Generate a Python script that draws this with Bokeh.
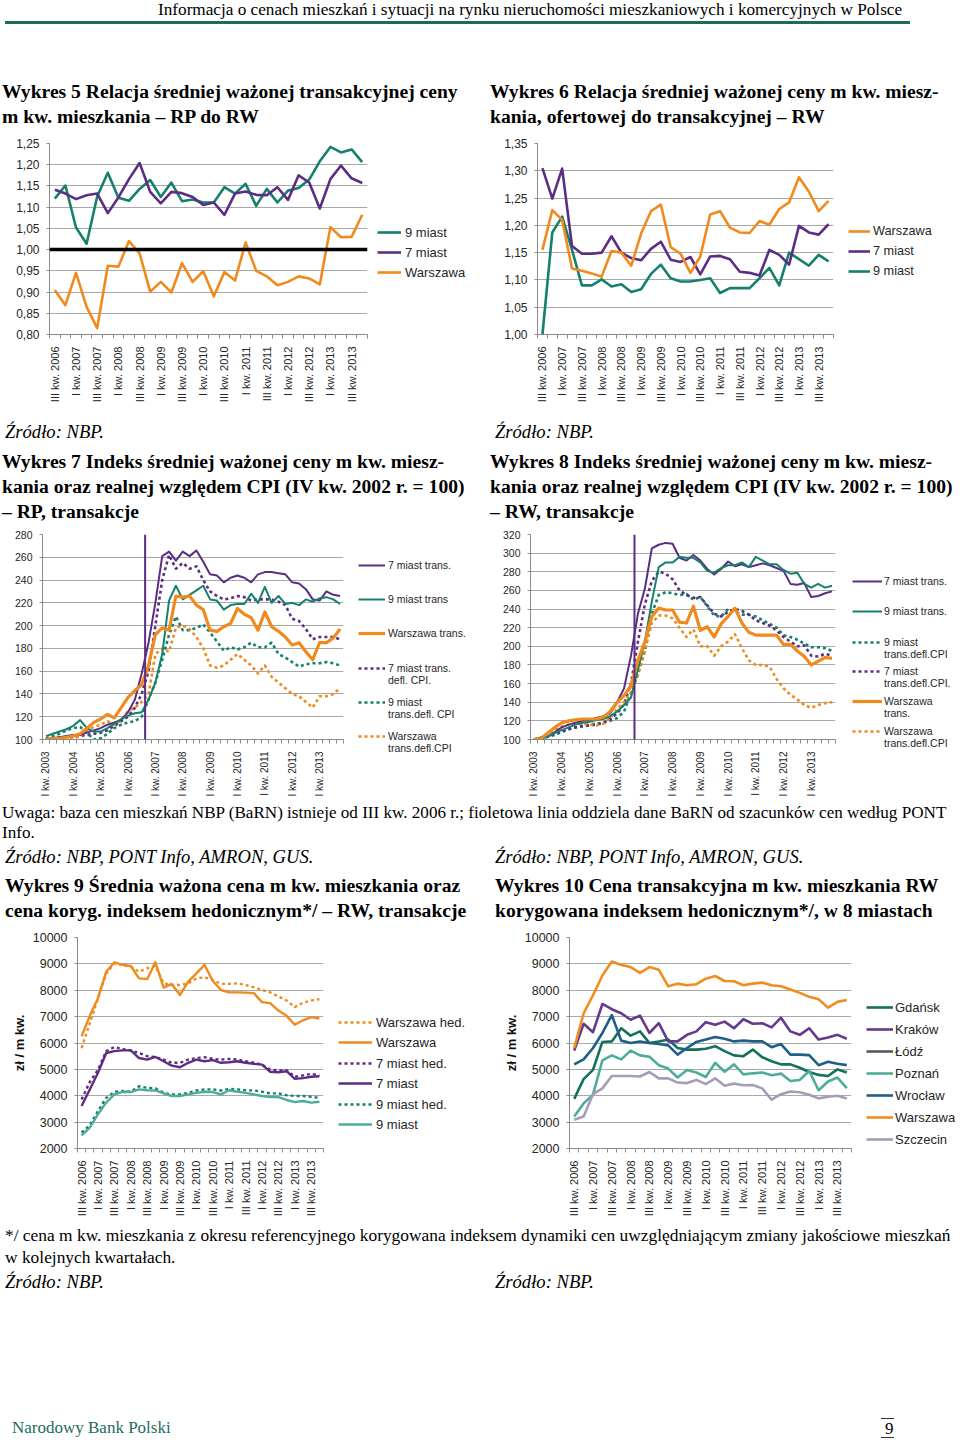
import math
from bokeh.plotting import figure
from bokeh.models import Range1d, FixedTicker, Span, Legend, LegendItem, Div
from bokeh.layouts import column, row
from bokeh.embed import file_html
from bokeh.resources import INLINE

# ---------------- DATA ----------------
# Charts 5, 6, 9, 10: quarters III kw. 2006 .. IV kw. 2013 (30 quarters)
q30_labels = ["III kw. 2006", "I kw. 2007", "III kw. 2007", "I kw. 2008", "III kw. 2008",
              "I kw. 2009", "III kw. 2009", "I kw. 2010", "III kw. 2010", "I kw. 2011",
              "III kw. 2011", "I kw. 2012", "III kw. 2012", "I kw. 2013", "III kw. 2013"]
# Charts 7, 8: quarters I kw. 2003 .. IV kw. 2013 (44 quarters)
q44_labels = ["I kw. 2003", "I kw. 2004", "I kw. 2005", "I kw. 2006", "I kw. 2007", "I kw. 2008",
              "I kw. 2009", "I kw. 2010", "I kw. 2011", "I kw. 2012", "I kw. 2013"]

# Wykres 5 - RP / RW
w5_9miast = [1.120, 1.151, 1.052, 1.014, 1.125, 1.181, 1.122, 1.115, 1.143, 1.164, 1.124, 1.158, 1.114, 1.118, 1.111,
             1.111, 1.147, 1.132, 1.155, 1.103, 1.143, 1.111, 1.139, 1.145, 1.165, 1.208, 1.242, 1.229, 1.236, 1.206]
w5_7miast = [1.141, 1.132, 1.119, 1.128, 1.132, 1.086, 1.123, 1.166, 1.204, 1.136, 1.109, 1.136, 1.133, 1.124, 1.105,
             1.111, 1.082, 1.132, 1.137, 1.129, 1.128, 1.147, 1.117, 1.175, 1.158, 1.097, 1.166, 1.198, 1.168, 1.157]
w5_warszawa = [0.905, 0.869, 0.945, 0.865, 0.815, 0.962, 0.960, 1.020, 0.991, 0.901, 0.924, 0.899, 0.968, 0.924, 0.949,
               0.890, 0.947, 0.927, 1.017, 0.950, 0.937, 0.916, 0.924, 0.937, 0.932, 0.918, 1.053, 1.029, 1.030, 1.082]
w5_ref_level = 1.0
w5_yticks = [0.80, 0.85, 0.90, 0.95, 1.00, 1.05, 1.10, 1.15, 1.20, 1.25]
w5_ylabels = ["0,80", "0,85", "0,90", "0,95", "1,00", "1,05", "1,10", "1,15", "1,20", "1,25"]

# Wykres 6 - oferta / transakcja RW
w6_warszawa = [1.155, 1.228, 1.210, 1.121, 1.117, 1.112, 1.106, 1.153, 1.150, 1.126, 1.185, 1.226, 1.238, 1.160, 1.148,
               1.113, 1.143, 1.220, 1.226, 1.196, 1.187, 1.186, 1.208, 1.201, 1.230, 1.242, 1.288, 1.262, 1.226, 1.245]
w6_7miast = [1.305, 1.249, 1.304, 1.162, 1.148, 1.148, 1.150, 1.180, 1.150, 1.140, 1.136, 1.157, 1.170, 1.137, 1.133,
             1.142, 1.110, 1.143, 1.144, 1.138, 1.115, 1.113, 1.108, 1.155, 1.146, 1.128, 1.199, 1.187, 1.183, 1.202]
w6_9miast = [1.000, 1.187, 1.216, 1.155, 1.090, 1.090, 1.101, 1.088, 1.092, 1.078, 1.083, 1.111, 1.128, 1.103, 1.097,
             1.097, 1.100, 1.103, 1.076, 1.085, 1.085, 1.085, 1.103, 1.122, 1.090, 1.150, 1.138, 1.126, 1.146, 1.134]
w6_yticks = [1.00, 1.05, 1.10, 1.15, 1.20, 1.25, 1.30, 1.35]
w6_ylabels = ["1,00", "1,05", "1,10", "1,15", "1,20", "1,25", "1,30", "1,35"]

# Wykres 7 - indeks RP
w7_7m = [100, 101, 102, 103, 104, 104, 106, 108, 110, 113, 115, 117, 124, 135, 158, 185, 220, 261, 265, 257, 265, 261,
         266, 256, 245, 244, 238, 242, 244, 242, 238, 245, 247, 247, 246, 245, 238, 237, 232, 223, 222, 230, 227, 226]
w7_9m = [103, 105, 107, 109, 112, 117, 110, 107, 107, 110, 114, 118, 121, 123, 124, 135, 150, 175, 222, 235, 223, 227,
         231, 235, 223, 222, 214, 218, 219, 219, 228, 220, 234, 220, 226, 219, 220, 218, 223, 221, 224, 225, 223, 219]
w7_waw = [100, 101, 101, 102, 103, 105, 110, 115, 118, 122, 119, 128, 137, 143, 148, 165, 192, 198, 196, 226, 225, 226,
          218, 214, 196, 195, 199, 202, 215, 210, 207, 196, 212, 199, 195, 190, 183, 185, 177, 170, 185, 185, 189, 197]
w7_7m_cpi = [100, 101, 102, 102, 103, 103, 104, 105, 106, 108, 112, 116, 120, 128, 140, 160, 200, 240, 262, 250, 255, 250,
             252, 240, 230, 226, 223, 224, 226, 225, 222, 223, 223, 223, 221, 218, 206, 204, 197, 188, 190, 190, 190, 188]
w7_9m_cpi = [101, 103, 105, 108, 110, 111, 106, 100, 101, 105, 110, 113, 115, 116, 120, 135, 150, 170, 192, 208, 196, 196,
             198, 201, 194, 186, 178, 181, 179, 181, 185, 181, 181, 185, 175, 172, 168, 164, 166, 167, 167, 168, 167, 165]
w7_waw_cpi = [100, 100, 100, 101, 101, 103, 108, 111, 113, 116, 113, 117, 125, 128, 133, 140, 175, 180, 177, 198, 200, 197,
              190, 180, 165, 163, 165, 170, 175, 170, 165, 158, 165, 155, 150, 145, 140, 138, 133, 128, 138, 138, 140, 145]
w7_yticks = [100, 120, 140, 160, 180, 200, 220, 240, 260, 280]

# Wykres 8 - indeks RW
w8_7m = [100, 102, 103, 108, 113, 116, 118, 120, 121, 123, 125, 128, 140, 155, 190, 235, 262, 305, 309, 311, 310, 295,
         292, 298, 292, 283, 277, 283, 291, 286, 288, 285, 287, 289, 287, 284, 281, 267, 266, 268, 253, 254, 257, 259]
w8_9m = [100, 101, 103, 107, 110, 113, 116, 118, 119, 121, 122, 125, 130, 137, 145, 175, 205, 248, 285, 290, 290, 296,
         295, 295, 290, 281, 279, 284, 287, 287, 290, 285, 296, 292, 288, 288, 282, 278, 279, 267, 263, 267, 263, 265]
w8_9m_cpi = [100, 101, 103, 105, 108, 111, 113, 115, 116, 117, 118, 120, 123, 130, 150, 170, 195, 235, 255, 258, 257, 255,
             256, 250, 253, 243, 233, 232, 240, 237, 234, 234, 232, 228, 224, 220, 212, 210, 207, 203, 199, 199, 198, 195]
w8_7m_cpi = [100, 102, 103, 106, 109, 111, 113, 114, 115, 116, 118, 122, 128, 138, 160, 205, 245, 270, 280, 278, 272, 260,
             255, 252, 253, 244, 235, 232, 237, 240, 238, 234, 228, 225, 222, 217, 210, 205, 200, 201, 190, 189, 192, 190]
w8_waw = [100, 101, 107, 113, 118, 120, 121, 122, 122, 122, 124, 130, 140, 147, 158, 185, 205, 232, 241, 239, 239, 226,
          225, 243, 217, 221, 210, 224, 232, 241, 225, 215, 212, 212, 212, 212, 202, 202, 195, 189, 180, 184, 188, 187]
w8_waw_cpi = [100, 101, 105, 110, 114, 116, 117, 117, 116, 115, 117, 123, 133, 140, 150, 170, 195, 225, 233, 233, 230, 220,
              210, 218, 200, 200, 190, 200, 205, 213, 198, 185, 180, 180, 178, 165, 155, 148, 143, 137, 134, 137, 139, 140]
w8_yticks = [100, 120, 140, 160, 180, 200, 220, 240, 260, 280, 300, 320]
barn_start = 14.5  # boundary between PONT Info estimates and BaRN data (category index)

# Wykres 9 - cena i cena hedoniczna RW
w9_waw_hed = [5810, 6750, 7700, 8640, 9020, 8960, 8890, 8700, 8830, 8920, 8260, 8200, 8200, 8260, 8450,
              8490, 8390, 8240, 8240, 8260, 8200, 8110, 8010, 7920, 7760, 7610, 7360, 7530, 7610, 7660]
w9_waw = [6250, 7030, 7700, 8700, 9060, 8960, 8920, 8450, 8420, 9060, 8100, 8240, 7820, 8330, 8640,
          8960, 8350, 8010, 7920, 7920, 7910, 7890, 7550, 7510, 7230, 7030, 6690, 6860, 6980, 6930]
w9_7m_hed = [3860, 4520, 4990, 5690, 5850, 5770, 5720, 5620, 5500, 5470, 5370, 5250, 5250, 5370, 5430,
             5460, 5400, 5370, 5400, 5370, 5310, 5250, 5180, 4990, 4960, 4970, 4720, 4770, 4830, 4770]
w9_7m = [3610, 4240, 4870, 5620, 5690, 5720, 5720, 5430, 5370, 5470, 5310, 5140, 5080, 5250, 5370,
         5310, 5350, 5250, 5270, 5310, 5250, 5210, 5180, 4910, 4890, 4930, 4640, 4670, 4720, 4740]
w9_9m_hed = [2600, 2880, 3420, 3920, 4150, 4180, 4150, 4360, 4300, 4280, 4110, 4050, 4050, 4110, 4200,
             4240, 4240, 4200, 4260, 4240, 4210, 4200, 4150, 4090, 4090, 4020, 3990, 3990, 3960, 3920]
w9_9m = [2500, 2790, 3300, 3740, 4050, 4150, 4140, 4240, 4210, 4200, 4090, 3990, 3990, 4050, 4110,
         4150, 4140, 4050, 4210, 4150, 4110, 4050, 3990, 3950, 3950, 3840, 3760, 3800, 3740, 3770]
price_yticks = [2000, 3000, 4000, 5000, 6000, 7000, 8000, 9000, 10000]

# Wykres 10 - ceny hedoniczne w miastach
w10_gdansk = [3880, 4630, 4980, 6040, 6060, 6560, 6280, 6440, 6000, 6060, 6130, 5810, 5750, 5750, 5780,
              5880, 5690, 5530, 5500, 5750, 5460, 5310, 5190, 5190, 5060, 4900, 4790, 4750, 5000, 4880]
w10_krakow = [5710, 6730, 6410, 7480, 7280, 7130, 6880, 7040, 6380, 6750, 6060, 6060, 6310, 6440, 6790,
              6690, 6810, 6560, 6900, 6730, 6750, 6590, 6960, 6440, 6310, 6560, 6130, 6210, 6310, 6160]
w10_lodz = []
w10_poznan = [3210, 3710, 4040, 5340, 5530, 5380, 5710, 5530, 5480, 5160, 5030, 4690, 4980, 4880, 4710,
              5250, 4910, 5190, 4810, 4850, 4880, 4780, 4840, 4560, 4600, 4940, 4210, 4540, 4690, 4290]
w10_wroclaw = [5190, 5380, 5810, 6380, 7060, 6090, 6000, 6060, 6000, 5960, 5910, 5560, 5810, 6040, 6130,
               6230, 6160, 6060, 6090, 6060, 6060, 5840, 5960, 5560, 5560, 5540, 5160, 5290, 5210, 5160]
w10_warszawa = [5810, 7120, 7810, 8560, 9090, 8960, 8880, 8660, 8880, 8780, 8150, 8250, 8190, 8230, 8440,
                8540, 8350, 8340, 8190, 8250, 8290, 8190, 8150, 8030, 7900, 7750, 7660, 7340, 7560, 7630]
w10_szczecin = [3090, 3210, 4060, 4280, 4750, 4750, 4750, 4730, 4900, 4660, 4660, 4500, 4480, 4600, 4440,
                4660, 4380, 4460, 4400, 4410, 4280, 3850, 4060, 4160, 4130, 4040, 3900, 3960, 4000, 3900]

# ---------------- STYLE ----------------
SANS = "Liberation Sans"
SERIF = "'Liberation Serif', 'Times New Roman', serif"
TEAL = "#15806c"
PURPLE = "#5c2d84"
ORANGE = "#f08a1d"
LTEAL = "#4cad98"
GRID = "#a8a8a8"
AXIS = "#8a8a8a"
TXT = "#262626"
DOT = "3 3"


def base_chart(left, top, fw, fh, height, n, yrange, yticks, ylabels, xlab_pos, xlabels,
               ytick_size, xtick_size, ylabel=None, right=5):
    p = figure(width=left + fw + right, height=height, min_border_left=left, min_border_top=top,
               min_border_right=right, min_border_bottom=height - top - fh,
               x_range=Range1d(-0.5, n - 0.5), y_range=Range1d(*yrange),
               output_backend="svg", toolbar_location=None, tools="", margin=0)
    p.outline_line_color = None
    p.background_fill_color = "white"
    p.border_fill_color = "white"
    p.xgrid.visible = False
    p.ygrid.ticker = FixedTicker(ticks=yticks)
    p.ygrid.grid_line_color = GRID
    p.ygrid.grid_line_width = 1
    ya = p.yaxis[0]
    ya.ticker = FixedTicker(ticks=yticks)
    if ylabels is not None:
        ya.major_label_overrides = {t: l for t, l in zip(yticks, ylabels)}
    ya.axis_line_color = AXIS
    ya.major_tick_line_color = AXIS
    ya.major_tick_out = 3
    ya.major_tick_in = 0
    ya.minor_tick_line_color = None
    ya.major_label_standoff = 7
    ya.major_label_text_font = SANS
    ya.major_label_text_font_size = f"{ytick_size}px"
    ya.major_label_text_color = TXT
    if ylabel:
        ya.axis_label = ylabel
        ya.axis_label_text_font = SANS
        ya.axis_label_text_font_style = "bold"
        ya.axis_label_text_font_size = "13px"
        ya.axis_label_text_color = "#111"
        ya.axis_label_standoff = 3
    xa = p.xaxis[0]
    xa.ticker = FixedTicker(ticks=xlab_pos, minor_ticks=[i - 0.5 for i in range(n + 1)])
    xa.major_label_overrides = {t: l for t, l in zip(xlab_pos, xlabels)}
    xa.major_label_orientation = math.pi / 2
    xa.axis_line_color = AXIS
    xa.major_tick_line_color = None
    xa.minor_tick_line_color = AXIS
    xa.minor_tick_out = 4
    xa.minor_tick_in = 0
    xa.major_label_standoff = 6
    xa.major_label_text_font = SANS
    xa.major_label_text_font_size = f"{xtick_size}px"
    xa.major_label_text_color = TXT
    return p


def series(p, ys, color, width, dash="solid"):
    xs = list(range(len(ys)))
    return p.line(xs, ys, line_color=color, line_width=width, line_dash=dash,
                  line_join="round", line_cap="butt")


def legend_column(width, top, height, entries, glyph_x, glyph_w, standoff, size, row_h):
    """A stack of small legend-only figures, one per entry.
    entries: (label_lines, color, line_width, dash, first_line_center_y_on_page)"""
    starts = [top] + [e[4] - row_h / 2 - 3 for e in entries[1:]]
    ends = starts[1:] + [top + height]
    starts_i = [round(s) for s in starts]
    ends_i = [round(e) for e in ends]
    figs = []
    for (lines, color, lw, dash, cy), s, e in zip(entries, starts_i, ends_i):
        h = e - s
        off = int(round(cy - row_h / 2 - s))
        lp = figure(width=width, height=h, x_range=Range1d(0, 1), y_range=Range1d(0, 1),
                    x_axis_type=None, y_axis_type=None,
                    min_border_left=glyph_x, min_border_top=off, min_border_right=0, min_border_bottom=0,
                    output_backend="svg", toolbar_location=None, tools="", margin=0)
        lp.outline_line_color = None
        lp.grid.visible = False
        # legend-key proxies (a single point draws no line segment)
        proxy = lp.line(x=[0], y=[0], line_color=color, line_width=lw, line_dash=dash)
        hidden = lp.line(x=[0], y=[0], line_color="white", line_alpha=0)
        items = [LegendItem(label=lines[0], renderers=[proxy])]
        items += [LegendItem(label=t, renderers=[hidden]) for t in lines[1:]]
        leg = Legend(items=items, location="top_left", orientation="vertical",
                     glyph_width=glyph_w, glyph_height=row_h, label_height=row_h,
                     label_standoff=standoff, spacing=0, padding=0, margin=0,
                     border_line_alpha=0, background_fill_alpha=0,
                     label_text_font=SANS, label_text_font_size=f"{size}px",
                     label_text_color=TXT)
        lp.add_layout(leg)
        figs.append(lp)
    return column(*figs, margin=0)


x30 = list(range(0, 30, 2))
x44 = list(range(0, 44, 4))

# ---- Wykres 5 ----
p5 = base_chart(49, 14, 318, 198, 277, 30, (0.80, 1.25), w5_yticks, w5_ylabels, x30, q30_labels, 12, 11)
p5.add_layout(Span(location=w5_ref_level, dimension="width", line_color="black", line_width=3.5))
series(p5, w5_9miast, TEAL, 2.6)
series(p5, w5_7miast, PURPLE, 2.6)
series(p5, w5_warszawa, ORANGE, 2.6)
l5 = legend_column(488 - 372, 128, 277, [(["9 miast"], TEAL, 2.6, "solid", 232),
                                         (["7 miast"], PURPLE, 2.6, "solid", 252),
                                         (["Warszawa"], ORANGE, 2.6, "solid", 272)], 5, 24, 4, 13, 16)

# ---- Wykres 6 ----
p6 = base_chart(49, 15, 296, 194, 277, 30, (1.00, 1.35), w6_yticks, w6_ylabels, x30, q30_labels, 12, 11)
series(p6, w6_9miast, TEAL, 2.6)
series(p6, w6_7miast, PURPLE, 2.6)
series(p6, w6_warszawa, ORANGE, 2.6)
l6 = legend_column(960 - 838, 128, 277, [(["Warszawa"], ORANGE, 2.6, "solid", 231),
                                         (["7 miast"], PURPLE, 2.6, "solid", 251),
                                         (["9 miast"], TEAL, 2.6, "solid", 271)], 10, 22, 3, 12.7, 16)

# ---- Wykres 7 ----
p7 = base_chart(42, 9, 301, 208, 278, 44, (100, 280), w7_yticks, None, x44, q44_labels, 10.5, 10)
p7.add_layout(Span(location=barn_start, dimension="height", line_color=PURPLE, line_width=2))
series(p7, w7_7m_cpi, PURPLE, 2.6, DOT)
series(p7, w7_9m_cpi, TEAL, 2.6, DOT)
series(p7, w7_waw_cpi, ORANGE, 2.6, DOT)
series(p7, w7_7m, PURPLE, 2.0)
series(p7, w7_9m, TEAL, 2.0)
series(p7, w7_waw, ORANGE, 3.2)
l7 = legend_column(488 - 348, 522, 278, [(["7 miast trans."], PURPLE, 2.0, "solid", 565),
                                         (["9 miast trans"], TEAL, 2.0, "solid", 599),
                                         (["Warszawa trans."], ORANGE, 3.2, "solid", 633),
                                         (["7 miast trans.", "defl. CPI."], PURPLE, 2.6, DOT, 668),
                                         (["9 miast", "trans.defl. CPI"], TEAL, 2.6, DOT, 702),
                                         (["Warszawa", "trans.defl.CPI"], ORANGE, 2.6, DOT, 736)],
                   10, 27, 3, 10.5, 12)

# ---- Wykres 8 ----
p8 = base_chart(42, 12, 305, 208, 278, 44, (100, 320), w8_yticks, None, x44, q44_labels, 10.5, 10)
p8.add_layout(Span(location=barn_start, dimension="height", line_color=PURPLE, line_width=2))
series(p8, w8_9m_cpi, TEAL, 2.6, DOT)
series(p8, w8_7m_cpi, PURPLE, 2.6, DOT)
series(p8, w8_waw_cpi, ORANGE, 2.6, DOT)
series(p8, w8_7m, PURPLE, 2.0)
series(p8, w8_9m, TEAL, 2.0)
series(p8, w8_waw, ORANGE, 3.2)
l8 = legend_column(960 - 840, 522, 278, [(["7 miast trans."], PURPLE, 2.0, "solid", 581),
                                         (["9 miast trans."], TEAL, 2.0, "solid", 611),
                                         (["9 miast", "trans.defl.CPI"], TEAL, 2.6, DOT, 642),
                                         (["7 miast", "trans.defl.CPI."], PURPLE, 2.6, DOT, 671),
                                         (["Warszawa", "trans."], ORANGE, 3.2, "solid", 701),
                                         (["Warszawa", "trans.defl.CPI"], ORANGE, 2.6, DOT, 731)],
                   12, 30, 2, 10.5, 12)

# ---- Wykres 9 ----
p9 = base_chart(77, 11, 246, 212, 295, 30, (2000, 10000), price_yticks, None, x30, q30_labels,
                12.5, 11, ylabel="zł / m kw.")
series(p9, w9_waw_hed, ORANGE, 2.4, DOT)
series(p9, w9_waw, ORANGE, 2.4)
series(p9, w9_7m_hed, PURPLE, 2.4, DOT)
series(p9, w9_7m, PURPLE, 2.4)
series(p9, w9_9m_hed, TEAL, 2.4, DOT)
series(p9, w9_9m, LTEAL, 2.4)
l9 = legend_column(488 - 328, 925, 295, [(["Warszawa hed."], ORANGE, 2.4, DOT, 1022),
                                         (["Warszawa"], ORANGE, 2.4, "solid", 1042),
                                         (["7 miast hed."], PURPLE, 2.4, DOT, 1063),
                                         (["7 miast"], PURPLE, 2.4, "solid", 1083),
                                         (["9 miast hed."], TEAL, 2.4, DOT, 1104),
                                         (["9 miast"], LTEAL, 2.4, "solid", 1124)], 10, 34, 4, 13, 16)

# ---- Wykres 10 ----
C10 = {"Gdańsk": "#13705b", "Kraków": "#633a8e", "Łódź": "#595959", "Poznań": LTEAL,
       "Wrocław": "#1f5e88", "Warszawa": "#f28c1e", "Szczecin": "#a79cb8"}
p10 = base_chart(81, 12, 282, 213, 295, 30, (2000, 10000), price_yticks, None, x30, q30_labels,
                 12.5, 11, ylabel="zł / m kw.")
series(p10, w10_gdansk, C10["Gdańsk"], 2.6)
series(p10, w10_krakow, C10["Kraków"], 2.6)
series(p10, w10_lodz, C10["Łódź"], 2.6)
series(p10, w10_poznan, C10["Poznań"], 2.6)
series(p10, w10_wroclaw, C10["Wrocław"], 2.6)
series(p10, w10_warszawa, C10["Warszawa"], 2.6)
series(p10, w10_szczecin, C10["Szczecin"], 2.6)
l10 = legend_column(960 - 856, 925, 295,
                    [([name], C10[name], 2.6, "solid", cy) for name, cy in
                     [("Gdańsk", 1007), ("Kraków", 1029), ("Łódź", 1051), ("Poznań", 1073),
                      ("Wrocław", 1095), ("Warszawa", 1117), ("Szczecin", 1139)]],
                    10, 27, 2, 13, 16)


# ---------------- TEXT BLOCKS ----------------
def line_html(txt, x, cy, size, extra=""):
    lh = round(size * 1.3)
    return (f'<div style="position:absolute;left:{x}px;top:{cy - lh / 2:.1f}px;line-height:{lh}px;'
            f'font-size:{size}px;font-family:{SERIF};white-space:nowrap;color:#000;{extra}">{txt}</div>')


def block(height, parts):
    html = (f'<div style="position:relative;width:960px;height:{height}px;overflow:visible;">'
            + "".join(parts) + '</div>')
    return Div(text=html, width=960, height=height, margin=0)


TITLE = 19.6
TSTY = "font-weight:bold;"
BODY = 17.1
SRC = "font-style:italic;"
SRCF = 18.6

d1 = block(128, [
    line_html("Informacja o cenach mieszkań i sytuacji na rynku nieruchomości mieszkaniowych i komercyjnych w Polsce",
              158, 10, 17.2),
    '<div style="position:absolute;left:5px;top:21px;width:905px;height:3px;background:#1b6c5a;"></div>',
    line_html("Wykres 5 Relacja średniej ważonej transakcyjnej ceny", 2, 91, TITLE, TSTY),
    line_html("m kw. mieszkania – RP do RW", 2, 116, TITLE, TSTY),
    line_html("Wykres 6 Relacja średniej ważonej ceny m kw. miesz-", 490, 91, TITLE, TSTY),
    line_html("kania, ofertowej do transakcyjnej – RW", 490, 116, TITLE, TSTY),
])

d2 = block(117, [
    line_html("Źródło: NBP.", 5, 27, SRCF, SRC),
    line_html("Źródło: NBP.", 495, 27, SRCF, SRC),
    line_html("Wykres 7 Indeks średniej ważonej ceny m kw. miesz-", 2, 56, TITLE, TSTY),
    line_html("kania oraz realnej względem CPI (IV kw. 2002 r. = 100)", 2, 81, TITLE, TSTY),
    line_html("– RP, transakcje", 2, 106, TITLE, TSTY),
    line_html("Wykres 8 Indeks średniej ważonej ceny m kw. miesz-", 490, 56, TITLE, TSTY),
    line_html("kania oraz realnej względem CPI (IV kw. 2002 r. = 100)", 490, 81, TITLE, TSTY),
    line_html("– RW, transakcje", 490, 106, TITLE, TSTY),
])

d3 = block(125, [
    line_html("Uwaga: baza cen mieszkań NBP (BaRN) istnieje od III kw. 2006 r.; fioletowa linia oddziela dane "
              "BaRN od szacunków cen według PONT", 2, 13, BODY),
    line_html("Info.", 2, 33, BODY),
    line_html("Źródło: NBP, PONT Info, AMRON, GUS.", 5, 57, SRCF, SRC),
    line_html("Źródło: NBP, PONT Info, AMRON, GUS.", 495, 57, SRCF, SRC),
    line_html("Wykres 9 Średnia ważona cena m kw. mieszkania oraz", 5, 85, TITLE, TSTY),
    line_html("cena koryg. indeksem hedonicznym*/ – RW, transakcje", 5, 110, TITLE, TSTY),
    line_html("Wykres 10 Cena transakcyjna m kw. mieszkania RW", 495, 85, TITLE, TSTY),
    line_html("korygowana indeksem hedonicznym*/, w 8 miastach", 495, 110, TITLE, TSTY),
])

d4 = block(224, [
    line_html("*/ cena m kw. mieszkania z okresu referencyjnego korygowana indeksem dynamiki cen "
              "uwzględniającym zmiany jakościowe mieszkań", 5, 15, 17.4),
    line_html("w kolejnych kwartałach.", 5, 37, 17.4),
    line_html("Źródło: NBP.", 5, 62, SRCF, SRC),
    line_html("Źródło: NBP.", 495, 62, SRCF, SRC),
    line_html("Narodowy Bank Polski", 12, 208, 17, "color:#1c6d5c;"),
    '<div style="position:absolute;left:881px;top:198px;width:13px;height:1px;background:#333;"></div>',
    line_html("9", 885, 209, 17),
    '<div style="position:absolute;left:881px;top:217px;width:13px;height:1px;background:#333;"></div>',
])

layout = column(d1, row(p5, l5, p6, l6, margin=0), d2, row(p7, l7, p8, l8, margin=0), d3,
                row(p9, l9, p10, l10, margin=0), d4, margin=0)

open("out.html", "w").write(file_html(layout, INLINE, title="Wykresy 5-10"))
